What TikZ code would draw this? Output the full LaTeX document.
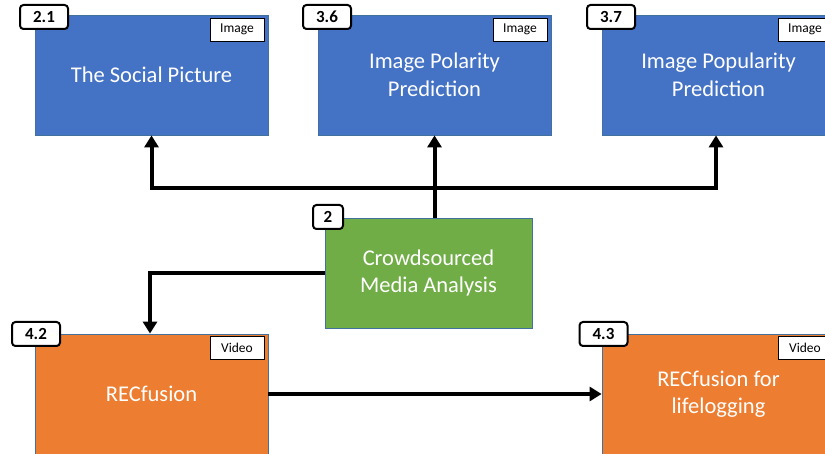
\documentclass[tikz,border=0pt]{standalone}
\usepackage{fontspec}
\setmainfont{Carlito}
\usetikzlibrary{arrows.meta}
\definecolor{boxblue}{HTML}{4472C4}
\definecolor{boxgreen}{HTML}{70AD47}
\definecolor{boxorange}{HTML}{ED7D31}
\definecolor{boxedge}{HTML}{41719C}
\tikzset{
  topic/.style={draw=boxedge, line width=0.8pt, minimum width=233pt, minimum height=120pt,
    inner sep=0pt, text=white, align=center, font=\fontsize{22.5}{27.5}\selectfont},
  badge/.style={draw=black, fill=white, line width=2pt, rounded corners=3.5pt,
    minimum width=48pt, minimum height=24pt, inner sep=0pt, font=\fontsize{17}{18}\selectfont\bfseries},
  media/.style={draw=black, fill=white, line width=0.8pt, minimum width=54pt, minimum height=23pt,
    inner sep=0pt, font=\fontsize{13.5}{14}\selectfont},
  arr/.style={line width=4pt, -{Triangle[width=14pt,length=12pt]}},
  link/.style={line width=4pt}
}
\begin{document}
\begin{tikzpicture}[x=1pt,y=-1pt]
\useasboundingbox (0,0) rectangle (825,454);
\clip (0,0) rectangle (825,454);
% topic boxes
\node[topic, fill=boxblue] (b21) at (151.5,75) {The Social Picture};
\node[topic, fill=boxblue] (b36) at (434.5,75) {Image Polarity\\Prediction};
\node[topic, fill=boxblue] (b37) at (718.5,75) {Image Popularity\\Prediction};
\node[topic, fill=boxgreen, minimum width=207pt, minimum height=110pt] (b2) at (428.5,273) {Crowdsourced\\Media Analysis};
\node[topic, fill=boxorange] (b42) at (151.5,394) {RECfusion};
\node[topic, fill=boxorange] (b43) at (718.5,394) {RECfusion for\\lifelogging};
% media labels
\node[media] (m21) at (237,29.5) {Image};
\node[media] (m36) at (520,29.5) {Image};
\node[media] (m37) at (805,29.5) {Image};
\node[media] (m42) at (237,348) {Video};
\node[media] (m43) at (805,348) {Video};
% section badges
\node[badge] (n21) at (44,17) {2.1};
\node[badge] (n36) at (327,17) {3.6};
\node[badge] (n37) at (611,17) {3.7};
\node[badge, minimum width=30pt] (n2) at (328,217) {2};
\node[badge] (n42) at (36,334) {4.2};
\node[badge] (n43) at (603.5,334) {4.3};
% connectors
\coordinate (jn) at (b36.south |- 0,188);
\draw[arr] (b36.south |- b2.north) -- (b36.south);
\draw[arr] (jn) -| (b21.south);
\draw[arr] (jn) -| ([xshift=-2.5pt]b37.south);
\draw[arr] (b2.west) -| ([xshift=-1.5pt]b42.north);
\draw[arr] (b42.east) -- (b43.west);
\end{tikzpicture}
\end{document}
